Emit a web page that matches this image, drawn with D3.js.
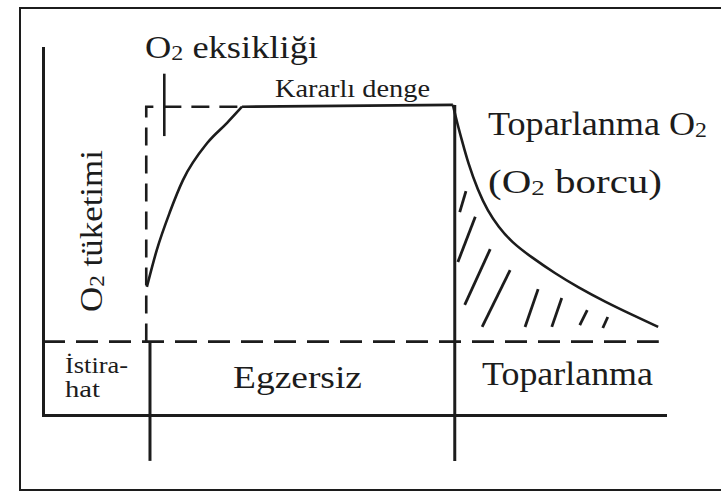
<!DOCTYPE html>
<html>
<head>
<meta charset="utf-8">
<script src="https://cdn.jsdelivr.net/npm/d3@7"></script>
<style>
  body { margin: 0; background: #fff; }
  text { fill: #1c1c1c; }
</style>
</head>
<body>
<svg id="chart"></svg>
<script>
//Time axis runs 0-100, O2 axis runs 0-100
var phaseNames = ["İstira-", "hat", "Egzersiz", "Toparlanma"];
var restEnd = 17.2;
var exerciseEnd = 66.2;
var timeEnd = 99;
var belowAxis = -12.5;

var restLevel = 20;
var steadyLevel = 84.5;

//O2 requirement (dashed step)
var requirement = [[16.6, restLevel], [16.6, 84], [32, 84]];

//O2 uptake during exercise
var uptakeRise = [[16.7, 34.9], [18.3, 45], [20.4, 55.3], [22.5, 64], [26.4, 74.1], [29.6, 79.6], [32, 84]];
var steadyState = [[32, 84], [65.9, 84.5]];

//O2 uptake during recovery
var recovery = [[65.9, 84.5], [66.6, 79.5], [67.4, 74.5], [68.3, 68.9], [69.9, 61.2], [71.5, 55.6], [73.2, 51.3],
                [75.4, 47.0], [78.6, 42.9], [82.3, 38.6], [86.0, 34.8], [90.4, 30.8], [94.7, 27.3], [98.9, 24.0]];

//hatch strokes in the O2 debt area: [x0, y0, x1, y1]
var debtHatch = [
    [67.0, 55.3, 68.0, 61.0],
    [66.7, 41.7, 69.5, 54.0],
    [67.8, 30.0, 71.9, 45.2],
    [70.6, 24.0, 75.1, 39.5],
    [77.5, 24.0, 79.6, 34.3],
    [81.8, 24.0, 83.4, 31.9],
    [86.3, 24.5, 87.5, 28.6],
    [90.0, 23.7, 90.8, 26.7]
];

//O2 deficit marker
var deficitTick = [19.5, 76, 93];

//Measurements for svg
var width = 721;
var height = 495;
var ink = "#1c1c1c";
var serif = "'Liberation Serif', 'Times New Roman', Times, serif";

var xScale = d3.scaleLinear()
    .domain([0, 100])
    .range([43, 665]);

var yScale = d3.scaleLinear()
    .domain([0, 100])
    .range([415, 48]);

var svg = d3.select('#chart')
    .attr('width', width)
    .attr('height', height);

//Outer frame
svg.append('rect')
    .attr('x', 20)
    .attr('y', 8)
    .attr('width', 720)
    .attr('height', 482)
    .attr('fill', 'none')
    .attr('stroke', ink)
    .attr('stroke-width', 2);

var line = d3.line()
    .x(d => xScale(d[0]))
    .y(d => yScale(d[1]));

var smooth = d3.line()
    .x(d => xScale(d[0]))
    .y(d => yScale(d[1]))
    .curve(d3.curveMonotoneX);

var basis = d3.line()
    .x(d => xScale(d[0]))
    .y(d => yScale(d[1]))
    .curve(d3.curveBasis);

//Axes
var yAxis = d3.axisLeft(yScale).tickValues([]).tickSizeOuter(0);
var xAxis = d3.axisBottom(xScale).tickValues([]).tickSizeOuter(0);

svg.append('g')
    .attr('transform', 'translate(' + xScale(0) + ',0)')
    .call(yAxis);
svg.append('g')
    .attr('transform', 'translate(0,' + yScale(0) + ')')
    .call(xAxis);
svg.selectAll('.domain')
    .attr('stroke', ink)
    .attr('stroke-width', 3)
    .attr('stroke-linecap', 'square');

//Rest level (dashed)
svg.append('path')
    .attr('d', line([[0, restLevel], [timeEnd, restLevel]]))
    .attr('fill', 'none')
    .attr('stroke', ink)
    .attr('stroke-width', 2.6)
    .attr('stroke-dasharray', '22,11');

//O2 requirement (dashed)
svg.append('path')
    .attr('d', line(requirement))
    .attr('fill', 'none')
    .attr('stroke', ink)
    .attr('stroke-width', 2.6)
    .attr('stroke-dasharray', '18,10');

//Phase separators
svg.selectAll('line.phase')
    .data([[restEnd, restLevel], [exerciseEnd, steadyLevel]])
    .enter()
    .append('line')
        .attr('class', 'phase')
        .attr('x1', d => xScale(d[0]))
        .attr('x2', d => xScale(d[0]))
        .attr('y1', d => yScale(d[1]))
        .attr('y2', yScale(belowAxis))
        .attr('stroke', ink)
        .attr('stroke-width', 3);

//Uptake curves
[[uptakeRise, smooth], [steadyState, line], [recovery, basis]].forEach(function(s) {
    svg.append('path')
        .attr('d', s[1](s[0]))
        .attr('fill', 'none')
        .attr('stroke', ink)
        .attr('stroke-width', 2.6)
        .attr('stroke-linejoin', 'round');
});

//O2 debt hatching
svg.selectAll('line.hatch')
    .data(debtHatch)
    .enter()
    .append('line')
        .attr('class', 'hatch')
        .attr('x1', d => xScale(d[0]))
        .attr('y1', d => yScale(d[1]))
        .attr('x2', d => xScale(d[2]))
        .attr('y2', d => yScale(d[3]))
        .attr('stroke', ink)
        .attr('stroke-width', 2.8);

//Deficit marker
svg.append('line')
    .attr('x1', xScale(deficitTick[0]))
    .attr('x2', xScale(deficitTick[0]))
    .attr('y1', yScale(deficitTick[1]))
    .attr('y2', yScale(deficitTick[2]))
    .attr('stroke', ink)
    .attr('stroke-width', 2.6);

//Labels, parts: [text, isSubscript]
function label(x, y, parts, size, len, rotate) {
    var t = svg.append('text')
        .attr('x', x)
        .attr('y', y)
        .style('font-family', serif)
        .attr('font-size', size)
        .attr('textLength', len)
        .attr('lengthAdjust', 'spacingAndGlyphs');
    if (rotate) t.attr('transform', 'rotate(-90,' + x + ',' + y + ')');
    parts.forEach(function(p, i) {
        var ts = t.append('tspan').text(p[0]);
        if (p[1]) {
            ts.attr('font-size', size * 0.66).attr('dy', size * 0.06);
        } else if (i > 0 && parts[i - 1][1]) {
            ts.attr('dy', -size * 0.06);
        }
    });
}

label(145, 58, [["O"], ["2", true], [" eksikliği"]], 31, 173);
label(275, 97, [["Kararlı denge"]], 25, 155);
label(488, 135, [["Toparlanma O"], ["2", true]], 33, 219);
label(488, 193, [["(O"], ["2", true], [" borcu)"]], 33, 174);
label(102, 312, [["O"], ["2", true], [" tüketimi"]], 31, 162, true);
label(65, 373, [[phaseNames[0]]], 23, 63);
label(65, 397, [[phaseNames[1]]], 23, 35);
label(233, 388, [[phaseNames[2]]], 31, 129);
label(482, 385, [[phaseNames[3]]], 33, 171);
</script>
</body>
</html>
